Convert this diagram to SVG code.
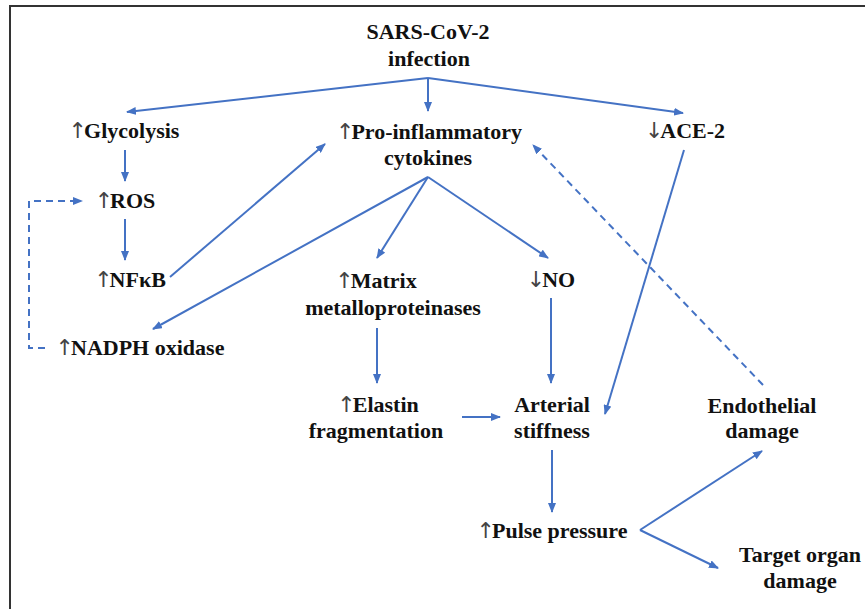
<svg xmlns="http://www.w3.org/2000/svg" width="865" height="609" viewBox="0 0 865 609">
<defs>
<style>
text{font-family:"Liberation Serif","Times New Roman",serif;font-size:22px;font-weight:bold;fill:#111;text-anchor:middle}
.ar{font-family:"DejaVu Sans","Liberation Sans",sans-serif;font-weight:normal;fill:#444;letter-spacing:-3px}
.c{fill:none;stroke:#4472C4;stroke-width:2;marker-end:url(#ah)}
.d{stroke-dasharray:7 5}
</style>
<marker id="ah" viewBox="0 0 10 8" refX="9" refY="4" markerWidth="10" markerHeight="8" markerUnits="userSpaceOnUse" orient="auto">
<path d="M0,0 L10,4 L0,8 Z" fill="#4472C4"/>
</marker>
</defs>
<rect width="865" height="609" fill="#fff"/>
<path d="M10,609 V6 H865" fill="none" stroke="#333" stroke-width="2"/>
<g id="connectors">
<line class="c" x1="428" y1="78" x2="127" y2="112"/>
<line class="c" x1="428" y1="78" x2="428" y2="111"/>
<line class="c" x1="428" y1="78" x2="683" y2="113"/>
<line class="c" x1="125" y1="150" x2="125" y2="181"/>
<line class="c" x1="125" y1="219" x2="125" y2="260"/>
<line class="c" x1="170" y1="277" x2="325" y2="144"/>
<line class="c" x1="428" y1="177" x2="153" y2="329"/>
<line class="c" x1="428" y1="177" x2="377" y2="258"/>
<line class="c" x1="428" y1="177" x2="548" y2="258"/>
<line class="c" x1="377" y1="328" x2="377" y2="383"/>
<line class="c" x1="551" y1="298" x2="551" y2="383"/>
<line class="c" x1="462" y1="417" x2="500" y2="417"/>
<line class="c" x1="684" y1="150" x2="605" y2="414"/>
<line class="c" x1="552" y1="450" x2="552" y2="512"/>
<line class="c" x1="640" y1="530" x2="762" y2="451"/>
<line class="c" x1="640" y1="530" x2="718" y2="568"/>
<line class="c d" x1="763" y1="385" x2="533" y2="145"/>
<path class="c d" d="M45,348 H29 V201 H82"/>
</g>
<g id="sars"><text x="428" y="39">SARS-CoV-2</text><text x="429" y="66">infection</text></g>
<g id="glycolysis"><text x="124" y="138"><tspan class="ar">↑</tspan>Glycolysis</text></g>
<g id="ros"><text x="125" y="208"><tspan class="ar">↑</tspan>ROS</text></g>
<g id="nfkb"><text x="130" y="287"><tspan class="ar">↑</tspan>NFκB</text></g>
<g id="nadph"><text x="140" y="355"><tspan class="ar">↑</tspan>NADPH oxidase</text></g>
<g id="cytokines"><text x="429" y="139"><tspan class="ar">↑</tspan>Pro-inflammatory</text><text x="428" y="165">cytokines</text></g>
<g id="ace2"><text x="685" y="138"><tspan class="ar">↓</tspan>ACE-2</text></g>
<g id="mmp"><text x="376" y="288"><tspan class="ar">↑</tspan>Matrix</text><text x="393" y="315">metalloproteinases</text></g>
<g id="no"><text x="551" y="287"><tspan class="ar">↓</tspan>NO</text></g>
<g id="elastin"><text x="378" y="412"><tspan class="ar">↑</tspan>Elastin</text><text x="376" y="438">fragmentation</text></g>
<g id="stiffness"><text x="552" y="412">Arterial</text><text x="552" y="438">stiffness</text></g>
<g id="endothelial"><text x="762" y="413">Endothelial</text><text x="762" y="438">damage</text></g>
<g id="pulse"><text x="552" y="538"><tspan class="ar">↑</tspan>Pulse pressure</text></g>
<g id="target"><text x="800" y="562">Target organ</text><text x="800" y="588">damage</text></g>
</svg>
